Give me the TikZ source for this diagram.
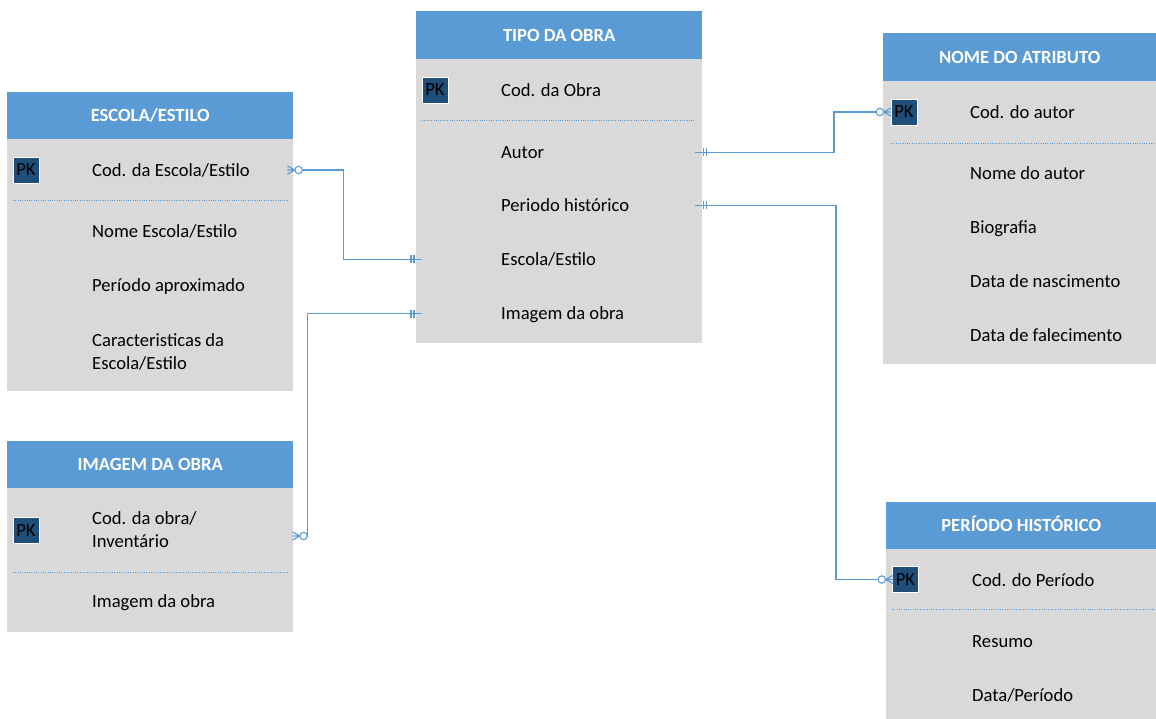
\documentclass[tikz,border=0pt]{standalone}
\usepackage{fontspec}
\setmainfont{Carlito}
\definecolor{hdrblue}{HTML}{5B9BD5}
\definecolor{rowgray}{HTML}{D9D9D9}
\definecolor{pkblue}{HTML}{1F4E79}
\definecolor{linkblue}{HTML}{5B9BD5}
\newcommand{\attrfont}{\fontsize{18.6}{23}\selectfont}

\begin{document}
\begin{tikzpicture}[x=1pt,y=-1pt,
  hdr/.style={fill=hdrblue, inner sep=0pt, anchor=north west, text=white,
    font=\attrfont\bfseries, text height=12pt, text depth=0pt},
  body/.style={fill=rowgray, inner sep=0pt, anchor=north west},
  pk/.style={fill=pkblue, draw=white, line width=0.8pt, minimum size=26pt,
    inner sep=0pt, font=\attrfont, text height=12pt, text depth=0pt, text=black},
  attr/.style={anchor=west, inner sep=0pt, font=\attrfont, text height=12pt, text depth=0pt},
  attrtwo/.style={anchor=base west, inner sep=0pt, font=\attrfont, align=left},
  sep/.style={draw=hdrblue, line width=0.9pt, dash pattern=on 1pt off 1.3pt},
  link/.style={draw=linkblue, line width=1.1pt},
  manyzero/.pic={
    \draw[link] (0,-4) -- (7.5,0) (0,4) -- (7.5,0) (0,0) -- (7.5,0);
    \draw[link, fill=white] (11.2,0) circle (3.7);},
  onlyone/.pic={\draw[link] (0,-4) -- (0,4) (3,-4) -- (3,4);}
]
\useasboundingbox (0,0) rectangle (1156,719);

% ---------- TIPO DA OBRA ----------
\node[hdr, minimum width=286pt, minimum height=48pt] (tipoH) at (416,11) {TIPO DA OBRA};
\node[body, minimum width=286pt, minimum height=284pt] (tipoB) at (416,59) {};
\node[pk] (pkT) at (435,90) {PK};
\node[attr] (tCod) at (501,90.5) {Cod. da Obra};
\draw[sep] (422,120) -- (695,120);
\node[attr] (tAutor) at (501,152.5) {Autor};
\node[attr] (tPeriodo) at (501,205.5) {Periodo histórico};
\node[attr] (tEscola) at (501,259.5) {Escola/Estilo};
\node[attr] (tImagem) at (501,313.5) {Imagem da obra};

% ---------- ESCOLA/ESTILO ----------
\node[hdr, minimum width=286pt, minimum height=47pt] (escolaH) at (7,92) {ESCOLA/ESTILO};
\node[body, minimum width=286pt, minimum height=252pt] (escolaB) at (7,139) {};
\node[pk] (pkE) at (26,170) {PK};
\node[attr] (eCod) at (92,170.5) {Cod. da Escola/Estilo};
\draw[sep] (13,200) -- (287,200);
\node[attr] (eNome) at (92,231.5) {Nome Escola/Estilo};
\node[attr] (ePer) at (92,285.5) {Período aproximado};
% the base anchor of a two-line node sits on its last line
\node[attrtwo] (eCar) at (92,369.3) {Caracteristicas da\\Escola/Estilo};

% ---------- IMAGEM DA OBRA ----------
\node[hdr, minimum width=286pt, minimum height=47pt] (imagemH) at (7,441) {IMAGEM DA OBRA};
\node[body, minimum width=286pt, minimum height=144pt] (imagemB) at (7,488) {};
\node[pk] (pkI) at (26,530.5) {PK};
\node[attrtwo] (iCod) at (92,547.3) {Cod. da obra/\\Inventário};
\draw[sep] (13,572) -- (287,572);
\node[attr] (iImg) at (92,601.5) {Imagem da obra};

% ---------- NOME DO ATRIBUTO ----------
\node[hdr, minimum width=273pt, minimum height=48pt] (nomeH) at (883,33) {NOME DO ATRIBUTO};
\node[body, minimum width=273pt, minimum height=283pt] (nomeB) at (883,81) {};
\node[pk] (pkN) at (904,112) {PK};
\node[attr] (nCod) at (970,112.5) {Cod. do autor};
\draw[sep] (891,143) -- (1156,143);
\node[attr] (nNome) at (970,173.5) {Nome do autor};
\node[attr] (nBio) at (970,227.5) {Biografia};
\node[attr] (nNasc) at (970,281.5) {Data de nascimento};
\node[attr] (nFal) at (970,335.3) {Data de falecimento};

% ---------- PERÍODO HISTÓRICO ----------
\node[hdr, minimum width=270pt, minimum height=47pt] (perH) at (886,502) {PERÍODO HISTÓRICO};
\node[body, minimum width=270pt, minimum height=170pt] (perB) at (886,549) {};
\node[pk] (pkP) at (905.5,579.5) {PK};
\node[attr] (pCod) at (972,580) {Cod. do Período};
\draw[sep] (892,609) -- (1156,609);
\node[attr] (pRes) at (972,641) {Resumo};
\node[attr] (pData) at (972,695) {Data/Período};

% ---------- relationships ----------
% ESCOLA/ESTILO (0..N) -- TIPO DA OBRA Escola/Estilo (1)
\draw[link] ([xshift=8pt]escolaB.east |- pkE) -- ([xshift=50pt]escolaB.east |- pkE)
  |- ([xshift=6pt]tipoB.west |- tEscola);
\pic at ([xshift=-6pt]escolaB.east |- pkE) {manyzero};
\pic at ([xshift=-5pt]tipoB.west |- tEscola) {onlyone};

% IMAGEM DA OBRA (0..N) -- TIPO DA OBRA Imagem da obra (1)
\draw[link] ([xshift=13pt, yshift=-5.5pt]imagemB.east |- pkI)
  -- ([xshift=14pt, yshift=-5.5pt]imagemB.east |- pkI)
  |- ([xshift=6pt]tipoB.west |- tImagem);
\pic at ([xshift=-1pt, yshift=-5.5pt]imagemB.east |- pkI) {manyzero};
\pic at ([xshift=-5pt]tipoB.west |- tImagem) {onlyone};

% TIPO DA OBRA Autor (1) -- NOME DO ATRIBUTO (0..N)
\draw[link] ([xshift=-7pt]tipoB.east |- tAutor) -| ([xshift=-49pt]nomeB.west |- pkN)
  -- ([xshift=-7pt]nomeB.west |- pkN);
\pic at ([xshift=1pt]tipoB.east |- tAutor) {onlyone};
\pic[rotate=180] at ([xshift=8pt]nomeB.west |- pkN) {manyzero};

% TIPO DA OBRA Periodo histórico (1) -- PERÍODO HISTÓRICO (0..N)
\draw[link] ([xshift=-7pt]tipoB.east |- tPeriodo) -| ([xshift=-50pt]perB.west |- pkP)
  -- ([xshift=-8pt]perB.west |- pkP);
\pic at ([xshift=1pt]tipoB.east |- tPeriodo) {onlyone};
\pic[rotate=180] at ([xshift=7pt]perB.west |- pkP) {manyzero};
\end{tikzpicture}
\end{document}
